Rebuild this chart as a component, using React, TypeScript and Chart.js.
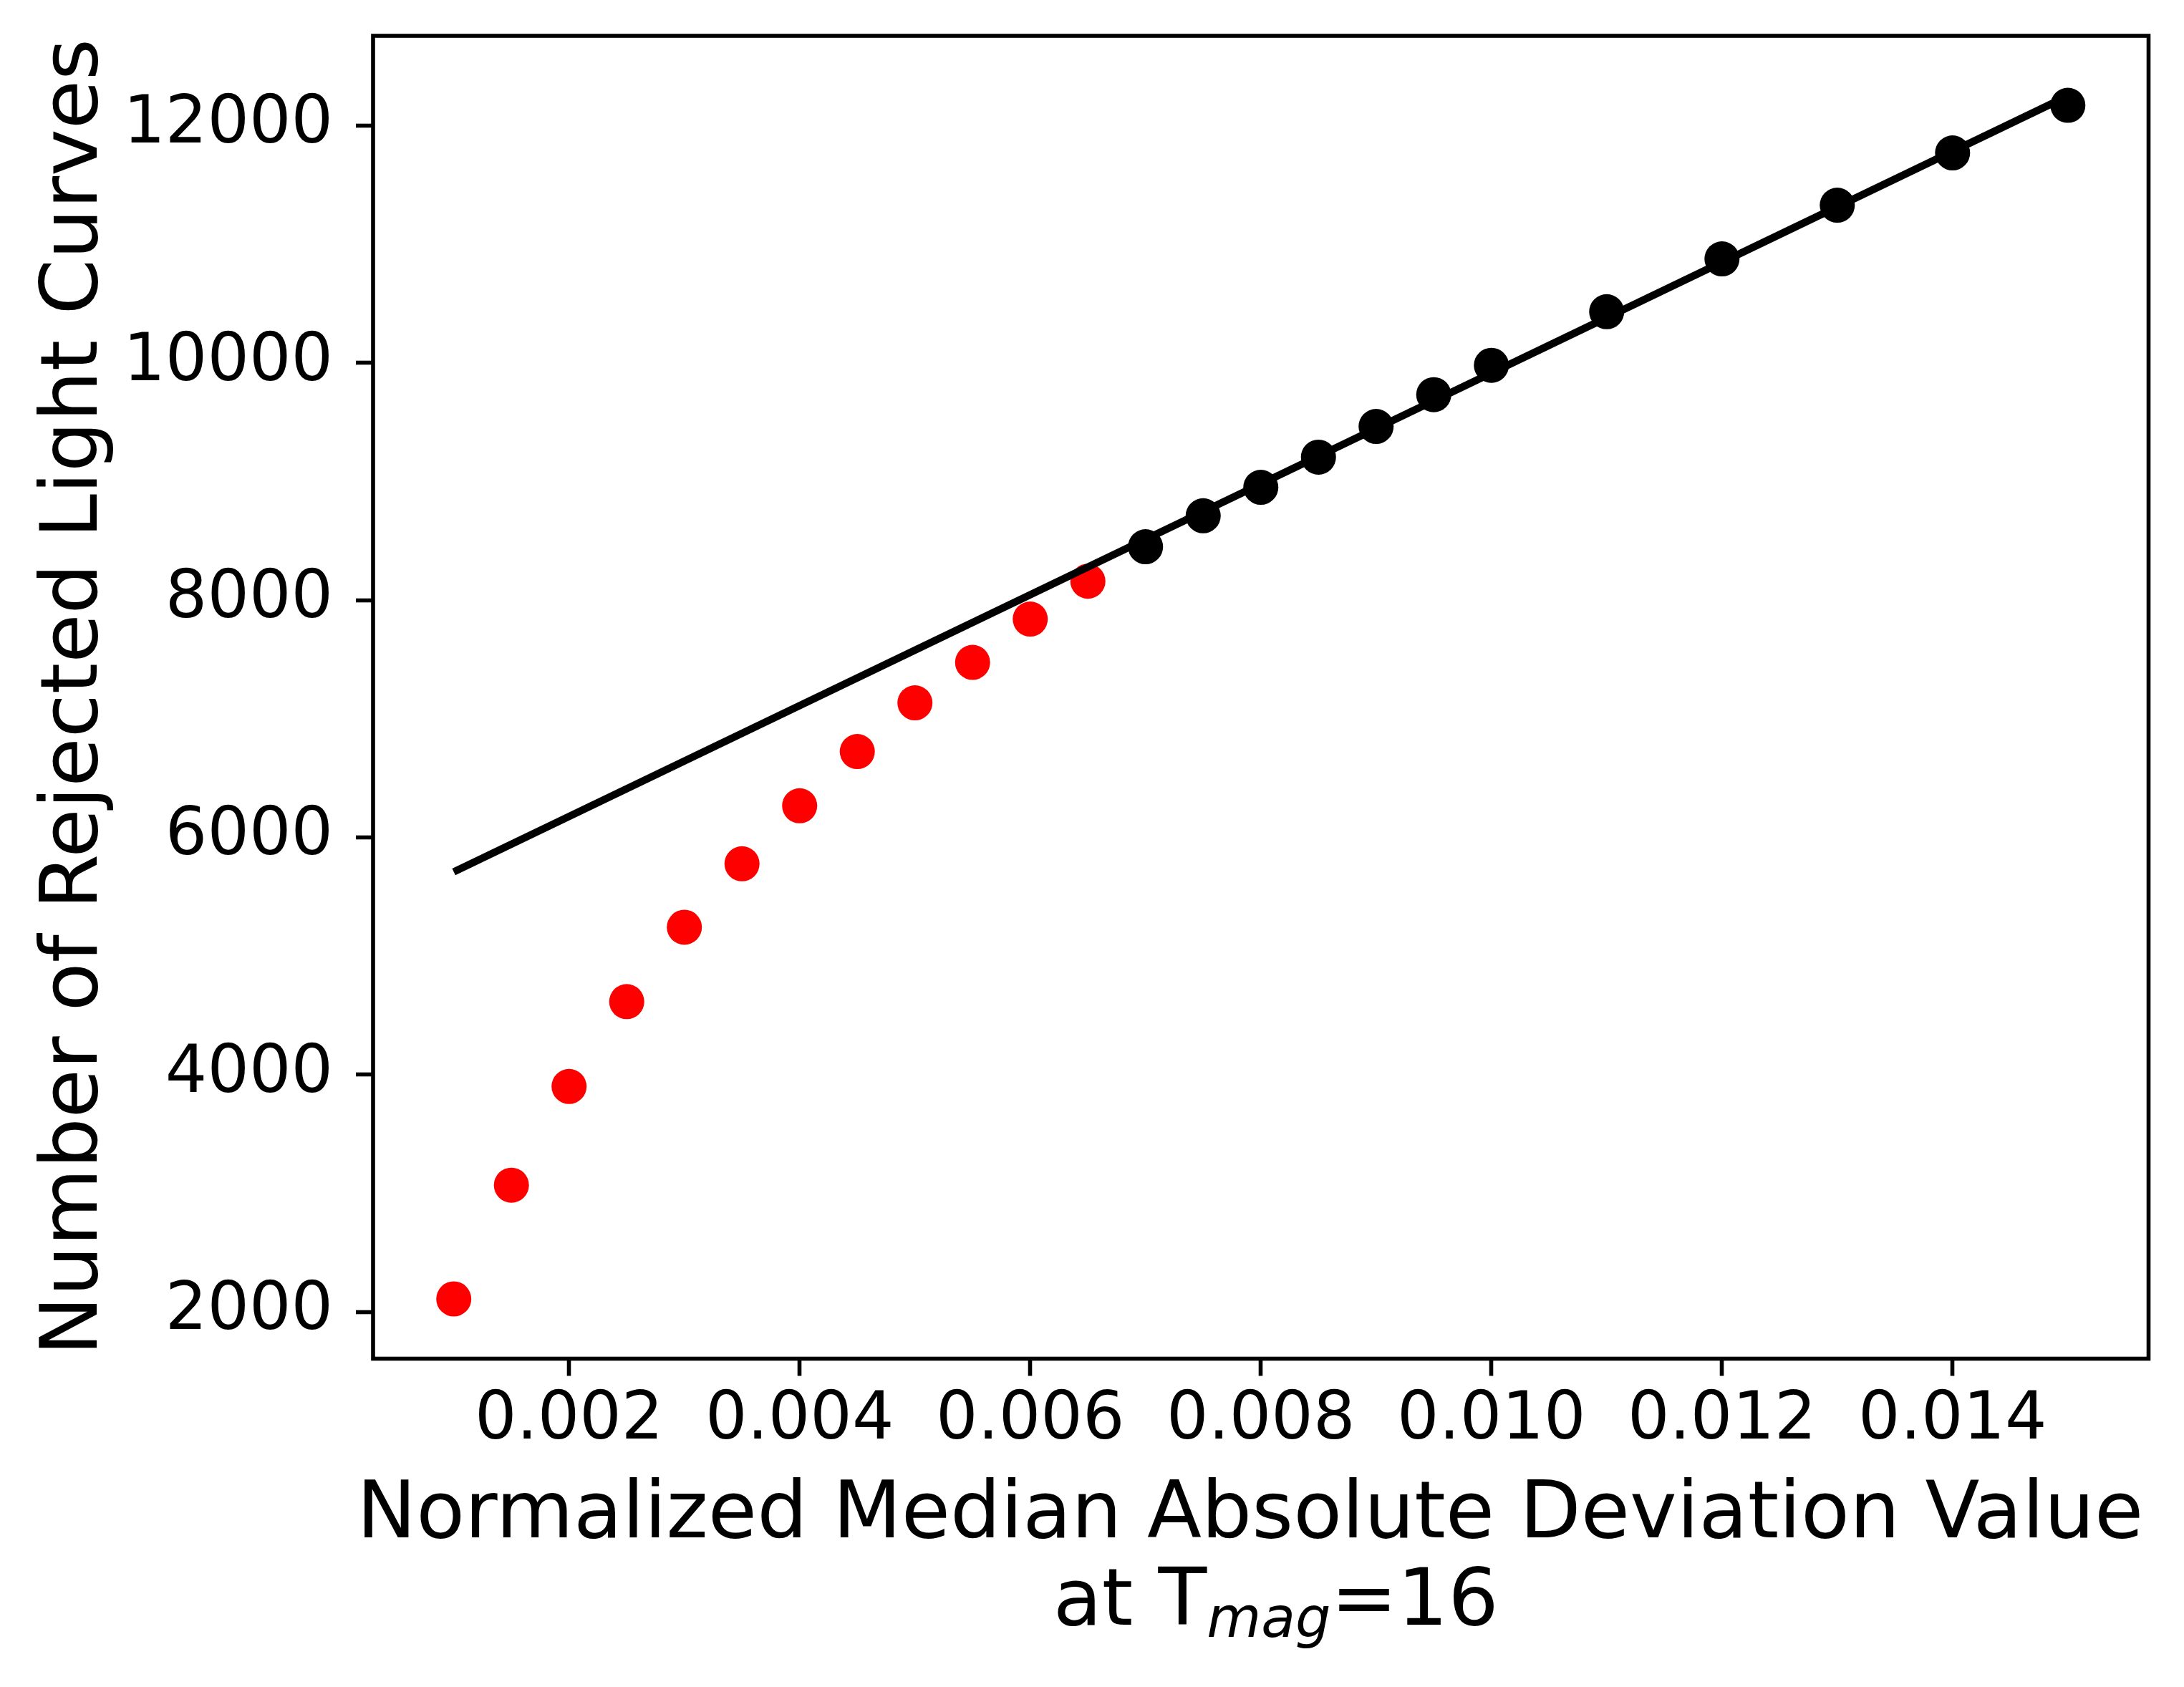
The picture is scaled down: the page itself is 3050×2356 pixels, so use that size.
import React, { useEffect, useRef } from "react";
import { Chart, registerables } from "chart.js";

Chart.register(...registerables);

// Data
const redX = [0.001, 0.0015, 0.002, 0.0025, 0.003, 0.0035, 0.004, 0.0045, 0.005, 0.0055, 0.006, 0.0065];
const redY = [2109, 3068, 3900, 4615, 5242, 5777, 6266, 6723, 7134, 7475, 7840, 8159];
const blackX = [0.007, 0.0075, 0.008, 0.0085, 0.009, 0.0095, 0.01, 0.011, 0.012, 0.013, 0.014, 0.015];
const blackY = [8450, 8711, 8951, 9205, 9464, 9732, 9979, 10431, 10876, 11329, 11770, 12171];
const fitX = [0.001, 0.015];
const fitY = [5709, 12250];
const xTicks = [0.002, 0.004, 0.006, 0.008, 0.01, 0.012, 0.014];
const yTicks = [2000, 4000, 6000, 8000, 10000, 12000];
const xRange = [0.0003, 0.0157];
const yRange = [1605, 12757];
const xTitleLine1 = "Normalized Median Absolute Deviation Value";
const xTitleParts = ["at T", "mag", "=16"];
const yTitle = "Number of Rejected Light Curves";

const W = 3050;
const H = 2356;
const FONT = "'DejaVu Sans', 'Liberation Sans', sans-serif";
const TICK_PX = 92;
const LABEL_PX = 111;
const SPINE = 5.6;

const framePlugin = {
  id: "frameAndTitles",
  afterDraw(chart: any) {
    const { ctx, chartArea } = chart;
    const { left, right, top, bottom } = chartArea;
    ctx.save();
    // frame
    ctx.strokeStyle = "#000";
    ctx.lineWidth = SPINE;
    ctx.strokeRect(left, top, right - left, bottom - top);
    ctx.fillStyle = "#000";
    const cx = (left + right) / 2;
    const cy = (top + bottom) / 2;
    // x title line 1
    ctx.font = `${LABEL_PX}px ${FONT}`;
    ctx.textAlign = "center";
    ctx.textBaseline = "alphabetic";
    ctx.fillText(xTitleLine1, cx - 15, bottom + 249);
    // x title line 2 with subscript
    const subPx = Math.round(LABEL_PX * 0.7);
    ctx.font = `${LABEL_PX}px ${FONT}`;
    const w1 = ctx.measureText(xTitleParts[0]).width;
    const w3 = ctx.measureText(xTitleParts[2]).width;
    ctx.font = `italic ${subPx}px ${FONT}`;
    const w2 = ctx.measureText(xTitleParts[1]).width;
    const total = w1 + w2 + w3;
    const x0 = cx + 21 - total / 2;
    const base2 = bottom + 371;
    ctx.textAlign = "left";
    ctx.font = `${LABEL_PX}px ${FONT}`;
    ctx.fillText(xTitleParts[0], x0, base2);
    ctx.font = `italic ${subPx}px ${FONT}`;
    ctx.fillText(xTitleParts[1], x0 + w1, base2 + 17);
    ctx.font = `${LABEL_PX}px ${FONT}`;
    ctx.fillText(xTitleParts[2], x0 + w1 + w2, base2);
    // y title
    ctx.translate(135, cy);
    ctx.rotate(-Math.PI / 2);
    ctx.textAlign = "center";
    ctx.textBaseline = "alphabetic";
    ctx.font = `${LABEL_PX}px ${FONT}`;
    ctx.fillText(yTitle, 0, 0);
    ctx.restore();
  },
};

const zeroPad = (s: any) => {
  s.paddingTop = 0;
  s.paddingBottom = 0;
  s.paddingLeft = 0;
  s.paddingRight = 0;
};

export default function App() {
  const ref = useRef<HTMLCanvasElement | null>(null);

  useEffect(() => {
    document.body.style.margin = "0";
    const canvas = ref.current;
    if (!canvas) return;
    const tickFont = { family: FONT, size: TICK_PX };
    const chart = new Chart(canvas, {
      type: "scatter",
      data: {
        datasets: [
          {
            label: "black",
            data: blackX.map((x, i) => ({ x, y: blackY[i] })),
            backgroundColor: "#000000",
            borderColor: "#000000",
            pointRadius: 24.5,
            pointBorderWidth: 0,
            showLine: false,
            order: 1,
          },
          {
            type: "line",
            label: "fit",
            data: fitX.map((x, i) => ({ x, y: fitY[i] })),
            borderColor: "#000000",
            borderWidth: 10.4,
            pointRadius: 0,
            showLine: true,
            fill: false,
            order: 2,
          } as any,
          {
            label: "red",
            data: redX.map((x, i) => ({ x, y: redY[i] })),
            backgroundColor: "#ff0000",
            borderColor: "#ff0000",
            pointRadius: 24.5,
            pointBorderWidth: 0,
            showLine: false,
            order: 3,
          },
        ],
      },
      options: {
        responsive: false,
        maintainAspectRatio: false,
        devicePixelRatio: 1,
        animation: false,
        layout: { padding: { top: 50, right: 49.5, left: 0, bottom: 0 } },
        plugins: {
          legend: { display: false },
          tooltip: { enabled: false },
        },
        scales: {
          x: {
            type: "linear",
            min: xRange[0],
            max: xRange[1],
            afterBuildTicks: (s: any) => {
              s.ticks = xTicks.map((v) => ({ value: v }));
            },
            afterFit: (s: any) => {
              s.height = H - 1897.5;
              zeroPad(s);
            },
            grid: {
              drawOnChartArea: false,
              drawTicks: true,
              tickLength: 24,
              tickWidth: SPINE,
              tickColor: "#000",
              color: "#000",
            },
            border: { display: false },
            ticks: {
              font: tickFont,
              color: "#000",
              padding: 8,
              maxRotation: 0,
              autoSkip: false,
              callback: (v: any) => Number(v).toFixed(3),
            },
          },
          y: {
            type: "linear",
            min: yRange[0],
            max: yRange[1],
            afterBuildTicks: (s: any) => {
              s.ticks = yTicks.map((v) => ({ value: v }));
            },
            afterFit: (s: any) => {
              s.width = 521;
              zeroPad(s);
            },
            grid: {
              drawOnChartArea: false,
              drawTicks: true,
              tickLength: 24,
              tickWidth: SPINE,
              tickColor: "#000",
              color: "#000",
            },
            border: { display: false },
            ticks: {
              font: tickFont,
              color: "#000",
              padding: 32,
              autoSkip: false,
              callback: (v: any) => String(v),
            },
          },
        },
      },
      plugins: [framePlugin],
    });
    return () => chart.destroy();
  }, []);

  return (
    <div style={{ position: "absolute", left: 0, top: 0, width: W, height: H, background: "#fff" }}>
      <canvas ref={ref} width={W} height={H} style={{ display: "block", width: W, height: H }} />
    </div>
  );
}
